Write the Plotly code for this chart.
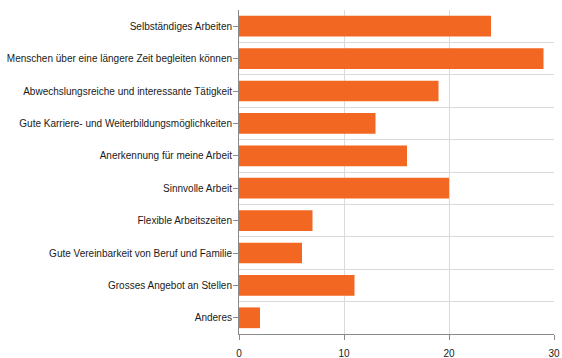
import plotly.graph_objects as go

categories = [
    "Selbständiges Arbeiten",
    "Menschen über eine längere Zeit begleiten können",
    "Abwechslungsreiche und interessante Tätigkeit",
    "Gute Karriere- und Weiterbildungsmöglichkeiten",
    "Anerkennung für meine Arbeit",
    "Sinnvolle Arbeit",
    "Flexible Arbeitszeiten",
    "Gute Vereinbarkeit von Beruf und Familie",
    "Grosses Angebot an Stellen",
    "Anderes",
]
values = [24, 29, 19, 13, 16, 20, 7, 6, 11, 2]
x_ticks = [0, 10, 20, 30]

bar_color = "#F26722"
grid_color = "#DADADA"
axis_color = "#8A8A8A"
font = dict(family="Liberation Sans, Arial, sans-serif", size=10, color="#1a1a1a")

fig = go.Figure()
fig.add_trace(go.Bar(
    x=values, y=categories, orientation="h",
    marker=dict(color=bar_color, line=dict(width=0)),
    hoverinfo="x+y",
))
# invisible helper trace to carry center tick marks on an overlay axis
fig.add_trace(go.Scatter(
    x=values, y=categories, mode="markers", marker=dict(opacity=0),
    yaxis="y2", hoverinfo="skip", showlegend=False,
))

yrange = [len(categories) - 0.5, -0.5]
fig.update_layout(
    width=562, height=358,
    margin=dict(l=239, r=8, t=10, b=24),
    paper_bgcolor="white", plot_bgcolor="white",
    showlegend=False,
    bargap=0.36,
    font=font,
    xaxis=dict(
        range=[0, 30], tickvals=x_ticks, ticktext=[str(v) for v in x_ticks],
        showgrid=True, gridcolor=grid_color, gridwidth=1,
        zeroline=False, showline=True, linecolor=axis_color, linewidth=1,
        ticks="outside", ticklen=5, tickcolor=axis_color,
        tickfont=dict(size=10, color="#1a1a1a"),
        ticklabelstandoff=5,
        automargin=False,
    ),
    yaxis=dict(
        type="category", categoryorder="array", categoryarray=categories,
        range=yrange, tickson="boundaries", showgrid=True, gridcolor=grid_color,
        ticks="", showline=True, linecolor=axis_color, linewidth=1,
        zeroline=False, ticklabelstandoff=4, automargin=False,
    ),
    yaxis2=dict(
        type="category", categoryorder="array", categoryarray=categories,
        overlaying="y", side="left", range=yrange,
        showgrid=False, showline=False, zeroline=False,
        showticklabels=False, ticks="outside", ticklen=5, tickcolor=axis_color,
        automargin=False,
    ),
)

fig.write_html("out.html")
